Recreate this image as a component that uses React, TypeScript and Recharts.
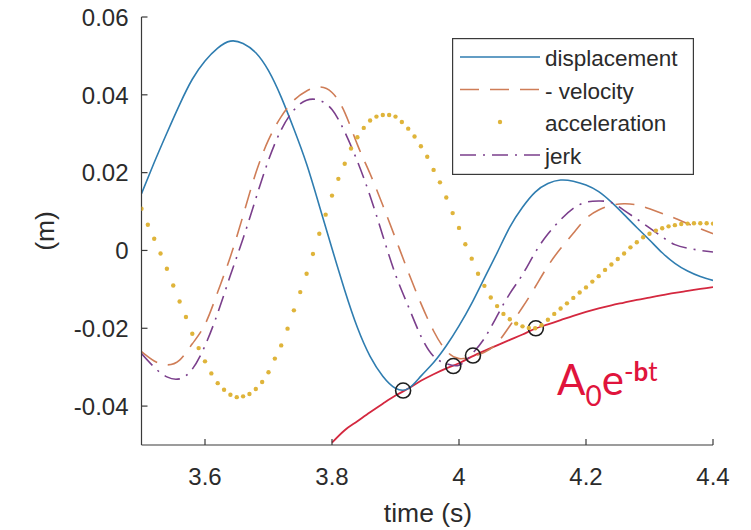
import React from 'react';
import { LineChart, Line, XAxis, YAxis, Scatter, Legend, Customized } from 'recharts';

// ---------- data ----------
const lineTimes = [
  3.5, 3.52, 3.54, 3.56, 3.58, 3.6, 3.62, 3.64, 3.66, 3.68, 3.7, 3.72, 3.74, 3.76, 3.78, 3.8,
  3.82, 3.84, 3.86, 3.88, 3.9, 3.92, 3.94, 3.96, 3.98, 4.0, 4.02, 4.04, 4.06, 4.08, 4.1, 4.12,
  4.14, 4.16, 4.18, 4.2, 4.22, 4.24, 4.26, 4.28, 4.3, 4.32, 4.34, 4.36, 4.38, 4.4,
];

const displacement = [
  0.0146, 0.0226, 0.0302, 0.0375, 0.044, 0.0487, 0.052, 0.0538, 0.0532, 0.0508, 0.0462, 0.0394,
  0.0312, 0.0222, 0.0115, 0.0005, -0.0102, -0.0198, -0.0272, -0.0323, -0.0354, -0.0355, -0.0323,
  -0.0288, -0.0245, -0.0194, -0.0136, -0.0071, -0.0006, 0.006, 0.0111, 0.015, 0.0172, 0.0181,
  0.0178, 0.0168, 0.0151, 0.0124, 0.0092, 0.0059, 0.0027, -0.0006, -0.0033, -0.0053, -0.0067,
  -0.0077,
];

const negVelocity = [
  -0.026, -0.0284, -0.0294, -0.0282, -0.024, -0.019, -0.0107, -0.0016, 0.009, 0.0199, 0.0284,
  0.0344, 0.0386, 0.041, 0.042, 0.0406, 0.0355, 0.0272, 0.0197, 0.0116, 0.0031, -0.0055, -0.0136,
  -0.0207, -0.0258, -0.0278, -0.0273, -0.0262, -0.0238, -0.0194, -0.0146, -0.0094, -0.0040, 0.0005,
  0.0044, 0.0082, 0.0104, 0.0116, 0.012, 0.0117, 0.0107, 0.0095, 0.0083, 0.0069, 0.0056, 0.0043,
];

const jerk = [
  -0.0265, -0.03, -0.0325, -0.033, -0.0305, -0.0245, -0.0161, -0.0064, 0.0031, 0.0133, 0.0232,
  0.031, 0.0361, 0.0386, 0.0386, 0.0362, 0.0305, 0.0229, 0.014, 0.0038, -0.0062, -0.0143, -0.022,
  -0.0272, -0.0291, -0.0295, -0.0267, -0.0226, -0.0168, -0.0111, -0.0062, -0.0005, 0.0042, 0.0079,
  0.0108, 0.0124, 0.0127, 0.0123, 0.0103, 0.0081, 0.0058, 0.0035, 0.0015, 0.0006, 0.0, -0.0004,
];

const accelTimes = [
  3.5, 3.51, 3.52, 3.53, 3.54, 3.55, 3.56, 3.57, 3.58, 3.59, 3.6, 3.61, 3.62, 3.63, 3.64, 3.65,
  3.66, 3.67, 3.68, 3.69, 3.7, 3.71, 3.72, 3.73, 3.74, 3.75, 3.76, 3.77, 3.78, 3.79, 3.8, 3.81,
  3.82, 3.83, 3.84, 3.85, 3.86, 3.87, 3.88, 3.89, 3.9, 3.91, 3.92, 3.93, 3.94, 3.95, 3.96, 3.97,
  3.98, 3.99, 4.0, 4.01, 4.02, 4.03, 4.04, 4.05, 4.06, 4.07, 4.08, 4.09, 4.1, 4.11, 4.12, 4.13,
  4.14, 4.15, 4.16, 4.17, 4.18, 4.19, 4.2, 4.21, 4.22, 4.23, 4.24, 4.25, 4.26, 4.27, 4.28, 4.29,
  4.3, 4.31, 4.32, 4.33, 4.34, 4.35, 4.36, 4.37, 4.38, 4.39, 4.4,
];

const acceleration = [
  0.0107, 0.0066, 0.003, -0.0008, -0.0047, -0.009, -0.0131, -0.0171, -0.0214, -0.0251, -0.0285,
  -0.0316, -0.0341, -0.0358, -0.0371, -0.0377, -0.0375, -0.0369, -0.0356, -0.0338, -0.0313,
  -0.0278, -0.0244, -0.0201, -0.0154, -0.0107, -0.006, -0.0009, 0.0043, 0.0092, 0.0141, 0.0184,
  0.0223, 0.0262, 0.0291, 0.0315, 0.0334, 0.0344, 0.0348, 0.0348, 0.0344, 0.033, 0.0313, 0.0293,
  0.0268, 0.0241, 0.0207, 0.0175, 0.0136, 0.0096, 0.0058, 0.0016, -0.0021, -0.006, -0.0091,
  -0.0121, -0.0143, -0.0163, -0.0177, -0.0188, -0.0195, -0.0199, -0.02, -0.0192, -0.0178, -0.0163,
  -0.0149, -0.0136, -0.0122, -0.0108, -0.0095, -0.008, -0.0066, -0.005, -0.0036, -0.0022, -0.0008,
  0.0008, 0.0021, 0.0034, 0.0043, 0.0051, 0.0057, 0.0062, 0.0065, 0.0068, 0.0069, 0.007, 0.007,
  0.007, 0.0069,
];

const envelopeTimes = [
  3.8, 3.82, 3.84, 3.86, 3.88, 3.9, 3.92, 3.94, 3.96, 3.98, 4.0, 4.02, 4.04, 4.06, 4.08, 4.1,
  4.12, 4.14, 4.16, 4.18, 4.2, 4.22, 4.24, 4.26, 4.28, 4.3, 4.32, 4.34, 4.36, 4.38, 4.4,
];

const envelope = [
  -0.0494, -0.0462, -0.0439, -0.0416, -0.0394, -0.0373, -0.0355, -0.0335, -0.0318, -0.0303,
  -0.029, -0.0273, -0.0258, -0.0244, -0.023, -0.0216, -0.0201, -0.019, -0.0179, -0.0168, -0.0158,
  -0.0149, -0.0141, -0.0134, -0.0127, -0.0121, -0.0115, -0.0109, -0.0104, -0.0099, -0.0094,
];

const touchTimes = [3.912, 3.991, 4.022, 4.121];
const touchValues = [-0.036, -0.0297, -0.027, -0.02];

const xTicks = [3.6, 3.8, 4, 4.2, 4.4];
const yTicks = [-0.04, -0.02, 0, 0.02, 0.04, 0.06];
const legendLabels = ['displacement', '- velocity', 'acceleration', 'jerk'];

// ---------- styles ----------
const AXIS = '#3a3a3a';
const TEXT = '#2b2b2b';
const FONT = '"Liberation Sans", Arial, Helvetica, sans-serif';
const BLUE = '#2f7db0';
const BROWN = '#cf7d57';
const YELLOW = '#dfb43a';
const PURPLE = '#7b3f8c';
const RED = '#d4283f';
const VEL_DASH = '19 11';
const JERK_DASH = '16 7 2 7';

const zip = (ts: number[], vs: number[]) => ts.map((t, i) => ({ t, v: vs[i] }));

const dispData = zip(lineTimes, displacement);
const velData = zip(lineTimes, negVelocity);
const jerkData = zip(lineTimes, jerk);
const accData = zip(accelTimes, acceleration);
const envData = zip(envelopeTimes, envelope);
const touchData = zip(touchTimes, touchValues);

// ---------- ticks ----------
const BottomTick = (props: any) => {
  const { x, y, payload } = props;
  return (
    <g>
      <line x1={x} y1={y} x2={x} y2={y - 6} stroke={AXIS} strokeWidth={1.2} />
      <text x={x} y={y + 40} textAnchor="middle" fontSize={24} fill={TEXT} fontFamily={FONT}>
        {String(payload.value)}
      </text>
    </g>
  );
};
const TopTick = (props: any) => {
  const { x, y } = props;
  return <line x1={x} y1={y} x2={x} y2={y + 6} stroke={AXIS} strokeWidth={1.2} />;
};
const LeftTick = (props: any) => {
  const { x, y, payload } = props;
  return (
    <g>
      <line x1={x} y1={y} x2={x + 6} y2={y} stroke={AXIS} strokeWidth={1.2} />
      <text x={x - 13} y={y + 8.7} textAnchor="end" fontSize={24} fill={TEXT} fontFamily={FONT}>
        {String(payload.value)}
      </text>
    </g>
  );
};
const RightTick = (props: any) => {
  const { x, y } = props;
  return <line x1={x} y1={y} x2={x - 6} y2={y} stroke={AXIS} strokeWidth={1.2} />;
};

// ---------- legend ----------
const LEGEND_ROWS = [19, 51.5, 84, 117];
const LegendBox = () => (
  <svg width={242} height={137} style={{ display: 'block' }}>
    <rect x={0.6} y={0.6} width={240.8} height={135.8} fill="#fff" stroke={AXIS} strokeWidth={1.2} />
    <line x1={8} x2={88} y1={LEGEND_ROWS[0]} y2={LEGEND_ROWS[0]} stroke={BLUE} strokeWidth={1.6} />
    <line x1={8} x2={88} y1={LEGEND_ROWS[1]} y2={LEGEND_ROWS[1]} stroke={BROWN} strokeWidth={1.6} strokeDasharray={VEL_DASH} />
    <circle cx={48} cy={LEGEND_ROWS[2]} r={2.2} fill={YELLOW} />
    <line x1={8} x2={88} y1={LEGEND_ROWS[3]} y2={LEGEND_ROWS[3]} stroke={PURPLE} strokeWidth={1.6} strokeDasharray={JERK_DASH} />
    {legendLabels.map((label, i) => (
      <text key={label} x={93} y={LEGEND_ROWS[i] + 9} fontSize={22.5} fill={TEXT} fontFamily={FONT}>
        {label}
      </text>
    ))}
  </svg>
);

// ---------- annotations ----------
const Titles = () => (
  <g>
    <text x={428} y={522} textAnchor="middle" fontSize={26.5} fill={TEXT} fontFamily={FONT}>
      time (s)
    </text>
    <text transform="translate(54,231) rotate(-90)" textAnchor="middle" fontSize={26.5} fill={TEXT} fontFamily={FONT}>
      (m)
    </text>
    <text x={557} y={395} fill="#e0143c" fontFamily='Lato, "Open Sans", sans-serif' fontSize={42}>
      A
      <tspan fontSize={28} dy={11}>0</tspan>
      <tspan dy={-11}>e</tspan>
      <tspan fontSize={26} dy={-14}>-</tspan>
      <tspan fontSize={26} fontWeight="bold">b</tspan>
      <tspan fontSize={26}>t</tspan>
    </text>
  </g>
);

const TouchCircle = (props: any) => (
  <circle cx={props.cx} cy={props.cy} r={7.5} fill="none" stroke="#1e1e1e" strokeWidth={1.6} />
);

export default function App() {
  return (
    <div style={{ position: 'absolute', left: 0, top: 0, width: 751, height: 530, background: '#fff' }}>
      <LineChart width={751} height={530} margin={{ top: 17, right: 38, bottom: 0, left: 0 }}>
        <XAxis
          xAxisId="b"
          dataKey="t"
          type="number"
          domain={[3.5, 4.4]}
          allowDataOverflow
          ticks={xTicks}
          interval={0}
          height={85}
          tickSize={0}
          tickMargin={0}
          tickLine={false}
          axisLine={{ stroke: AXIS, strokeWidth: 1.2 }}
          tick={<BottomTick />}
        />
        <XAxis
          xAxisId="t"
          orientation="top"
          dataKey="t"
          type="number"
          domain={[3.5, 4.4]}
          allowDataOverflow
          ticks={xTicks}
          interval={0}
          height={0}
          tickSize={0}
          tickMargin={0}
          tickLine={false}
          axisLine={{ stroke: AXIS, strokeWidth: 1.2 }}
          tick={<TopTick />}
        />
        <YAxis
          yAxisId="l"
          type="number"
          domain={[-0.05, 0.06]}
          allowDataOverflow
          ticks={yTicks}
          interval={0}
          width={141.5}
          tickSize={0}
          tickMargin={0}
          tickLine={false}
          axisLine={{ stroke: AXIS, strokeWidth: 1.2 }}
          tick={<LeftTick />}
        />
        <YAxis
          yAxisId="r"
          orientation="right"
          type="number"
          domain={[-0.05, 0.06]}
          allowDataOverflow
          ticks={yTicks}
          interval={0}
          width={0}
          tickSize={0}
          tickMargin={0}
          tickLine={false}
          axisLine={{ stroke: AXIS, strokeWidth: 1.2 }}
          tick={<RightTick />}
        />
        <Line xAxisId="b" yAxisId="l" data={envData} dataKey="v" name="envelope" type="monotone" stroke={RED} strokeWidth={1.8} dot={false} activeDot={false} isAnimationActive={false} legendType="none" />
        <Line xAxisId="b" yAxisId="l" data={dispData} dataKey="v" name="displacement" type="natural" stroke={BLUE} strokeWidth={1.6} dot={false} activeDot={false} isAnimationActive={false} />
        <Line xAxisId="b" yAxisId="l" data={velData} dataKey="v" name="- velocity" type="natural" stroke={BROWN} strokeWidth={1.6} strokeDasharray={VEL_DASH} dot={false} activeDot={false} isAnimationActive={false} />
        <Line xAxisId="b" yAxisId="l" data={accData} dataKey="v" name="acceleration" type="linear" stroke="none" dot={{ r: 2.2, fill: YELLOW, stroke: 'none' }} activeDot={false} isAnimationActive={false} />
        <Line xAxisId="b" yAxisId="l" data={jerkData} dataKey="v" name="jerk" type="natural" stroke={PURPLE} strokeWidth={1.6} strokeDasharray={JERK_DASH} dot={false} activeDot={false} isAnimationActive={false} />
        <Scatter xAxisId="b" yAxisId="l" data={touchData} dataKey="v" name="touch" shape={<TouchCircle />} isAnimationActive={false} legendType="none" />
        <Legend
          content={<LegendBox />}
          layout="vertical"
          align="center"
          verticalAlign="middle"
          wrapperStyle={{ left: 452, top: 38, width: 242, height: 137 }}
        />
        <Customized component={<Titles />} />
      </LineChart>
    </div>
  );
}
